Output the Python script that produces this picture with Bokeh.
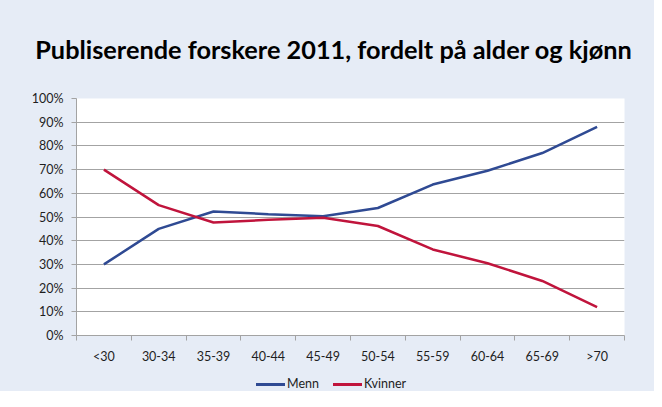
from bokeh.plotting import figure
from bokeh.models import Range1d, FixedTicker, NumeralTickFormatter, Div
from bokeh.layouts import column
from bokeh.embed import file_html
from bokeh.resources import INLINE

categories = ["<30", "30-34", "35-39", "40-44", "45-49", "50-54", "55-59", "60-64", "65-69", ">70"]
menn = [0.30, 0.45, 0.523, 0.512, 0.503, 0.538, 0.637, 0.695, 0.770, 0.880]
kvinner = [0.70, 0.55, 0.477, 0.488, 0.497, 0.462, 0.363, 0.305, 0.230, 0.120]
y_ticks = [0.0, 0.1, 0.2, 0.3, 0.4, 0.5, 0.6, 0.7, 0.8, 0.9, 1.0]
series_names = ["Menn", "Kvinner"]
title_text = "Publiserende forskere 2011, fordelt på alder og kjønn"

FONT = "Lato"
BG = "#E6ECF6"
BLUE = "#2F4A93"
RED = "#C0143C"
GRID = "#A3A3A3"
W = 654

xs = [i + 0.5 for i in range(len(categories))]

title_div = Div(text=title_text, width=W, height=72,
                styles={"background-color": BG, "font-family": FONT, "font-size": "25.3px",
                        "font-weight": "bold", "color": "black", "text-align": "center",
                        "line-height": "30px", "padding-top": "34px", "padding-left": "13px",
                        "box-sizing": "border-box", "margin": "0", "white-space": "nowrap"})

# main chart
p = figure(width=W, height=295, output_backend="svg", toolbar_location=None,
           x_range=Range1d(0, len(categories)), y_range=Range1d(0, 1),
           min_border_left=76, min_border_right=30, min_border_top=26, min_border_bottom=32)
p.background_fill_color = "white"
p.border_fill_color = BG
p.outline_line_color = None

p.line(xs, menn, line_color=BLUE, line_width=2.5)
p.line(xs, kvinner, line_color=RED, line_width=2.5)

xa = p.xaxis[0]
xa.ticker = FixedTicker(ticks=xs, minor_ticks=list(range(len(categories) + 1)))
xa.major_label_overrides = {x: c for x, c in zip(xs, categories)}
xa.major_tick_line_color = None
xa.minor_tick_line_color = GRID
xa.minor_tick_out = 5
xa.minor_tick_in = 0
xa.axis_line_color = GRID
xa.major_label_text_font = FONT
xa.major_label_text_font_size = "12.5px"
xa.major_label_text_color = "#1E1E1E"
xa.major_label_standoff = 7

ya = p.yaxis[0]
ya.ticker = FixedTicker(ticks=y_ticks)
ya.formatter = NumeralTickFormatter(format="0%")
ya.major_tick_line_color = GRID
ya.major_tick_out = 5
ya.major_tick_in = 0
ya.minor_tick_line_color = None
ya.axis_line_color = GRID
ya.major_label_text_font = FONT
ya.major_label_text_font_size = "12.5px"
ya.major_label_text_color = "#1E1E1E"
ya.major_label_standoff = 8

p.xgrid.grid_line_color = None
p.ygrid.ticker = FixedTicker(ticks=y_ticks)
p.ygrid.grid_line_color = GRID
p.ygrid.grid_line_width = 1

# legend strip (HTML)
def swatch(color):
    return ('<span style="display:inline-block;width:29px;height:3px;background:%s;'
            'vertical-align:middle;margin-right:2px;"></span>' % color)

legend_html = (swatch(BLUE) + '<span>%s</span>' % series_names[0]
               + '<span style="display:inline-block;width:14px;"></span>'
               + swatch(RED) + '<span>%s</span>' % series_names[1])
legend_div = Div(text=legend_html, width=W, height=24,
                 styles={"background-color": BG, "font-family": FONT, "font-size": "12.5px",
                         "color": "#1E1E1E", "text-align": "left", "line-height": "16px",
                         "padding-top": "9px", "padding-left": "256px",
                         "box-sizing": "border-box", "margin": "0", "white-space": "nowrap"})

layout = column(title_div, p, legend_div, spacing=0, styles={"background-color": BG})
open("out.html", "w").write(file_html(layout, INLINE))
